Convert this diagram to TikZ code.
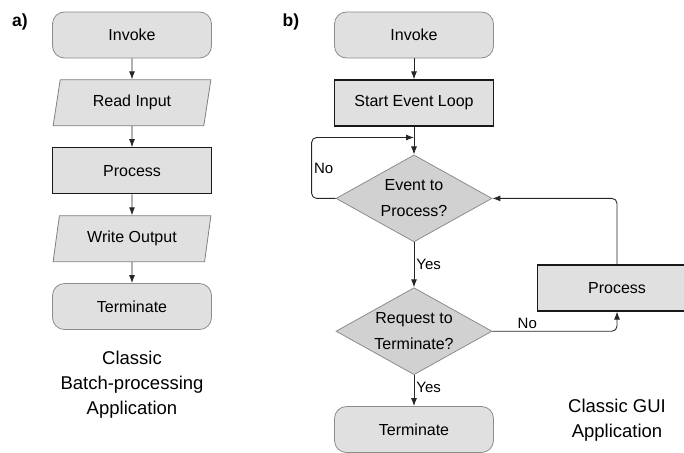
\documentclass[tikz,border=0pt]{standalone}
\usepackage{fontspec}
\setmainfont{Liberation Sans}
\usetikzlibrary{shapes.geometric, arrows.meta, positioning}

\begin{document}
\begin{tikzpicture}[
		x=1pt, y=1pt,
		>={Latex[length=8pt,width=6pt]},
		node distance=21pt,
		terminal/.style={draw=black!45, fill=black!12, rounded corners=12pt, line width=0.8pt,
			minimum width=159pt, minimum height=46pt, font=\fontsize{16}{19}\selectfont},
		inout/.style={trapezium, trapezium left angle=79, trapezium right angle=101,
			trapezium stretches=true, draw=black!50, fill=black!12, line width=0.8pt,
			minimum width=158pt, minimum height=46pt, font=\fontsize{16}{19}\selectfont},
		block/.style={draw=black!90, fill=black!12, line width=1.1pt,
			minimum width=159pt, minimum height=46pt, font=\fontsize{16}{19}\selectfont},
		decision/.style={diamond, aspect=1.8, draw=black!45, fill=black!18, line width=0.8pt,
			minimum width=156pt, minimum height=87pt, inner sep=0pt, align=center,
			font=\fontsize{16}{26}\selectfont},
		caption/.style={align=center, font=\fontsize{18.5}{25}\selectfont},
		part/.style={font=\bfseries\fontsize{17.5}{20}\selectfont},
		lbl/.style={font=\fontsize{15}{18}\selectfont, inner sep=2pt},
		arr/.style={->, line width=0.9pt, draw=black!85},
	]
		\useasboundingbox (0,0) rectangle (684,-452);

		% a) batch processing
		\node[part] (partA) at (20,-22) {a)};
		\node[terminal] (invokeA) at (132,-35) {Invoke};
		\node[inout, below=of invokeA] (readA) {Read Input};
		\node[block, below=of readA] (procA) {Process};
		\node[inout, below=of procA] (writeA) {Write Output};
		\node[terminal, below=of writeA] (termA) {Terminate};
		\node[caption] (capA) at (132,-385) {Classic\\Batch-processing\\Application};

		\draw[arr] (invokeA) -- (readA);
		\draw[arr] (readA) -- (procA);
		\draw[arr] (procA) -- (writeA);
		\draw[arr] (writeA) -- (termA);

		% b) event loop
		\node[part] (partB) at (291,-22) {b)};
		\node[terminal] (invokeB) at (414,-35) {Invoke};
		\node[block, below=of invokeB] (loopB) {Start Event Loop};
		\coordinate[below=11pt of loopB] (joinB);
		\node[decision, below=28pt of loopB] (eventB) {Event to\\Process?};
		\node[decision, below=45pt of eventB] (reqB) {Request to\\Terminate?};
		\node[terminal, below=31pt of reqB] (termB) {Terminate};
		\node[block] (procB) at (617,-288) {Process};
		\node[caption] (capB) at (617,-420) {Classic GUI\\Application};

		% Arrows
		\draw[arr] (invokeB) -- (loopB);
		\draw[arr] (loopB) -- (eventB);
		\draw[arr] (eventB) -- node[lbl, right] {Yes} (reqB);
		\draw[arr] (reqB) -- node[lbl, right, pos=0.4] {Yes} (termB);
		\draw[arr, rounded corners=5pt] (reqB.east) -| node[lbl, above, pos=0.14] {No} (procB.south);
		\draw[arr, rounded corners=5pt] (procB.north) |- (eventB.east);
		\draw[arr, rounded corners=5pt] (eventB.west) -- ++(-24,0) |- node[lbl, right, pos=0.25] {No} (joinB);
	\end{tikzpicture}
\end{document}
